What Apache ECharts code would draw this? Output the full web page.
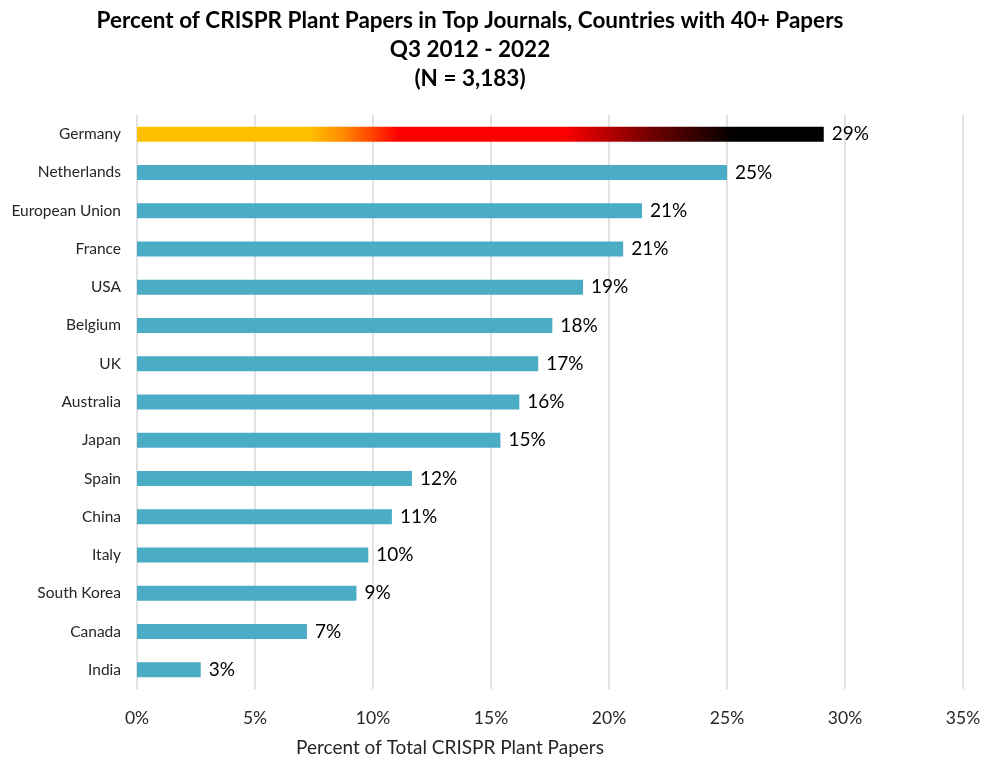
<!DOCTYPE html>
<html><head><meta charset="utf-8">
<script src="https://cdn.jsdelivr.net/npm/echarts@6/dist/echarts.min.js"></script>
<style>html,body{margin:0;padding:0;background:#fff}#c{width:985px;height:757px}</style>
</head><body><div id="c"></div>
<script>
const categories = ["Germany","Netherlands","European Union","France","USA","Belgium","UK","Australia","Japan","Spain","China","Italy","South Korea","Canada","India"];
const values = [29.1, 25.0, 21.4, 20.6, 18.9, 17.6, 17.0, 16.2, 15.4, 11.65, 10.8, 9.8, 9.3, 7.2, 2.7];
const labels = ["29%","25%","21%","21%","19%","18%","17%","16%","15%","12%","11%","10%","9%","7%","3%"];
const xTicks = [0,5,10,15,20,25,30,35];

const font = "Lato, 'Open Sans', sans-serif";
const germanyGradient = new echarts.graphic.LinearGradient(0,0,1,0,[
  {offset:0, color:'#FFC000'},
  {offset:0.25, color:'#FFC000'},
  {offset:0.30, color:'#FF8A00'},
  {offset:0.38, color:'#FF0000'},
  {offset:0.62, color:'#FF0000'},
  {offset:0.75, color:'#700000'},
  {offset:0.87, color:'#000000'},
  {offset:1, color:'#000000'}
]);

const chart = echarts.init(document.getElementById('c'));
chart.setOption({
  animation:false,
  backgroundColor:'#fff',
  title:[{
    text:'Percent of CRISPR Plant Papers in Top Journals, Countries with 40+ Papers\nQ3 2012 - 2022\n(N = 3,183)',
    left:465, top:1, textAlign:'center',
    textStyle:{fontFamily:font, fontWeight:'bold', fontSize:22.5, lineHeight:29, color:'#000'}
  },{
    text:'Percent of Total CRISPR Plant Papers',
    left:445, top:733, textAlign:'center',
    textStyle:{fontFamily:font, fontWeight:'normal', fontSize:19, color:'#262626'}
  }],
  grid:{left:137, right:22, top:115, bottom:68, containLabel:false},
  xAxis:{
    type:'value', min:0, max:35, interval:5,
    axisLine:{show:false}, axisTick:{show:false},
    splitLine:{show:true, lineStyle:{color:'#D9D9D9', width:1.5}},
    axisLabel:{margin:20, fontFamily:font, fontSize:17.5, color:'#262626',
      formatter:v=> xTicks.includes(v) ? v+'%' : ''}
  },
  yAxis:{
    type:'category', data:categories, inverse:true,
    axisLine:{show:false}, axisTick:{show:false},
    axisLabel:{margin:16, fontFamily:font, fontSize:15.5, color:'#262626'}
  },
  series:[{
    type:'bar', barWidth:15,
    data: values.map((v,i)=>({value:v, itemStyle:{color: i===0 ? germanyGradient : '#4BACC6'}})),
    label:{show:true, position:'right', distance:8, fontFamily:font, fontSize:19, color:'#000',
      formatter:p=>labels[p.dataIndex]}
  }]
});
</script></body></html>
